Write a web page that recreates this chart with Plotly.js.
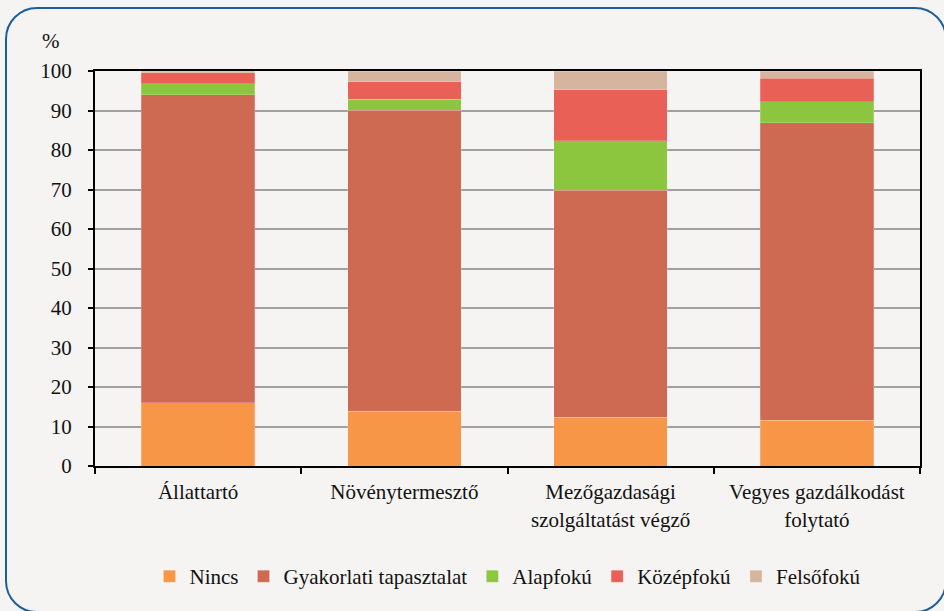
<!DOCTYPE html>
<html>
<head>
<meta charset="utf-8">
<script src="https://cdn.plot.ly/plotly-3.0.1.min.js"></script>
<style>
html,body{margin:0;padding:0;background:#f5f4f2;overflow:hidden;}
#frame{position:absolute;left:5px;top:7px;width:938px;height:602px;border:2.5px solid #1b5e9e;border-radius:32px;}
#chart{position:absolute;left:0;top:0;width:944px;height:611px;}
</style>
</head>
<body>
<div id="frame"></div>
<div id="chart"></div>
<script>
const categories = ["Állattartó", "Növénytermesztő", "Mezőgazdasági<br>szolgáltatást végző", "Vegyes gazdálkodást<br>folytató"];
const nincs = [16.0, 13.9, 12.4, 11.6];
const gyakorlati = [78.0, 76.2, 57.4, 75.3];
const alapfoku = [2.8, 2.8, 12.5, 5.3];
const kozepfoku = [2.8, 4.4, 13.0, 6.0];
const felsofoku = [0.4, 2.7, 4.7, 1.8];
const seriesNames = ["Nincs", "Gyakorlati tapasztalat", "Alapfokú", "Középfokú", "Felsőfokú"];
const seriesColors = ["#f79646", "#cd6a51", "#8cc63f", "#e86056", "#d6b59e"];
const yTicks = [0, 10, 20, 30, 40, 50, 60, 70, 80, 90, 100];

const values = [nincs, gyakorlati, alapfoku, kozepfoku, felsofoku];
const traces = values.map((v, i) => ({
  type: "bar",
  x: categories,
  y: v,
  name: seriesNames[i],
  marker: {color: seriesColors[i], line: {color: "rgba(255,255,255,0.4)", width: 0.5}},
  hoverinfo: "y+name"
}));

function mkFont() { return {family: "'Liberation Serif', 'DejaVu Serif'", size: 21, color: "#111"}; }
const layout = {
  width: 944, height: 611,
  margin: {l: 95, r: 24, t: 71, b: 145},
  paper_bgcolor: "rgba(0,0,0,0)",
  plot_bgcolor: "#f5f4f2",
  barmode: "stack",
  bargap: 0.45,
  font: mkFont(),
  showlegend: true,
  legend: {orientation: "h", x: 0.5, xanchor: "center", y: -0.228, yanchor: "top",
           font: mkFont(), traceorder: "normal", itemwidth: 14, tracegroupgap: 0},
  xaxis: {
    showline: true, linecolor: "#000", linewidth: 2, mirror: true,
    ticks: "outside", tickson: "boundaries", ticklen: 6, tickcolor: "#000", tickwidth: 1.5,
    tickfont: mkFont(), showgrid: false, ticklabelstandoff: 6
  },
  yaxis: {
    range: [0, 100], tickvals: yTicks, ticktext: yTicks.map(String),
    showline: true, linecolor: "#000", linewidth: 2, mirror: true,
    ticks: "outside", ticklen: 5, tickcolor: "#000", tickwidth: 1.5,
    gridcolor: "#a0a0a0", gridwidth: 1.5, zeroline: false,
    tickfont: mkFont(), ticklabelstandoff: 12
  },
  annotations: [{text: "%", xref: "paper", yref: "paper", x: -0.053, y: 1.04, xanchor: "center", yanchor: "bottom",
                 showarrow: false, font: mkFont()}]
};
Plotly.newPlot("chart", traces, layout, {displayModeBar: false});
</script>
</body>
</html>
